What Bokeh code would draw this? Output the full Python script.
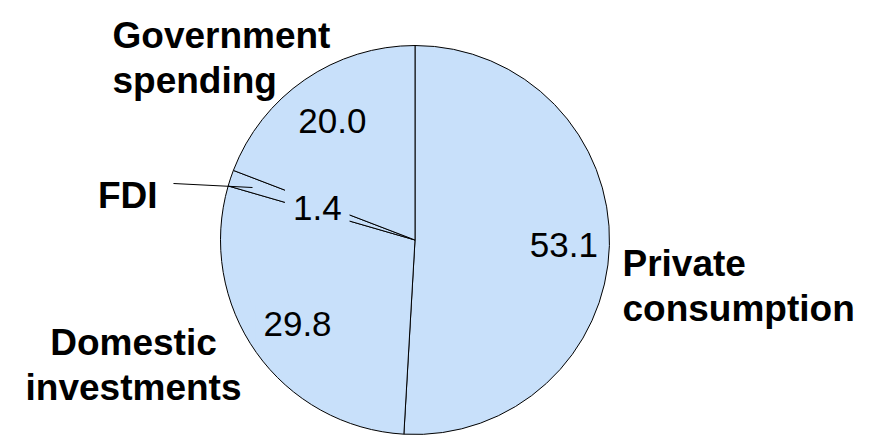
import numpy as np
from bokeh.plotting import figure
from bokeh.models import ColumnDataSource, Range1d
from bokeh.core.properties import value
from bokeh.embed import file_html
from bokeh.resources import INLINE

# ---- data ----
categories = ["Private\nconsumption", "Domestic\ninvestments", "FDI", "Government\nspending"]
values = [53.1, 29.8, 1.4, 20.0]
value_labels = ["53.1", "29.8", "1.4", "20.0"]

# ---- layout / style ----
W, H = 872, 435
CX, CY, R = 414.5, H - 239.5, 194.5
FILL = "#c8e0fa"
FONT = "Liberation Sans"
value_label_r = [0.766, 0.74, 0.53, 0.75]
# category label anchors (pixel x, first-line baseline pixel y, align)
cat_anchor = [(622, 263, "left"), (133, 342, "center"), (157, 195, "right"), (112, 35, "left")]
LINE_H = 45
fdi_leader = ((173, 183), (252, 187))

vals = np.array(values, dtype=float)
frac = vals / vals.sum()
cum = np.concatenate([[0.0], np.cumsum(frac)])
start = np.pi / 2 - cum[:-1] * 2 * np.pi
end = np.pi / 2 - cum[1:] * 2 * np.pi
mid = (start + end) / 2

p = figure(width=W, height=H, output_backend="svg", toolbar_location=None,
           x_range=Range1d(0, W), y_range=Range1d(0, H), min_border=0)
p.axis.visible = False
p.grid.visible = False
p.outline_line_color = None
p.background_fill_color = "white"
p.border_fill_color = "white"

wsrc = ColumnDataSource(dict(x=[CX] * len(vals), y=[CY] * len(vals), start=start, end=end))
p.wedge(x="x", y="y", radius=R, start_angle="start", end_angle="end", direction="clock",
        fill_color=FILL, line_color="black", line_width=1, source=wsrc)

# leader line for FDI
(x0, y0), (x1, y1) = fdi_leader
p.segment(x0=[x0], y0=[H - y0], x1=[x1], y1=[H - y1], line_color="black", line_width=1.2)

# value labels
rr = np.array(value_label_r) * R
vsrc = ColumnDataSource(dict(x=CX + rr * np.cos(mid), y=CY + rr * np.sin(mid) - 1, t=value_labels))
p.text(x="x", y="y", text="t", source=vsrc, text_font=value(FONT), text_font_size="35px",
       text_align="center", text_baseline="middle", text_color="black",
       background_fill_color=FILL, padding=8)

# category labels (split into lines)
lx, ly, lt, la = [], [], [], []
for cat, (ax, ay, al) in zip(categories, cat_anchor):
    for i, line in enumerate(cat.split("\n")):
        lx.append(ax)
        ly.append(H - (ay + i * LINE_H))
        lt.append(line)
        la.append(al)
csrc = ColumnDataSource(dict(x=lx, y=ly, t=lt, a=la))
p.text(x="x", y="y", text="t", source=csrc, text_font=value(FONT), text_font_size="37px",
       text_font_style="bold", text_align="a", text_baseline="alphabetic", text_color="black")

open("out.html", "w").write(file_html(p, INLINE))
